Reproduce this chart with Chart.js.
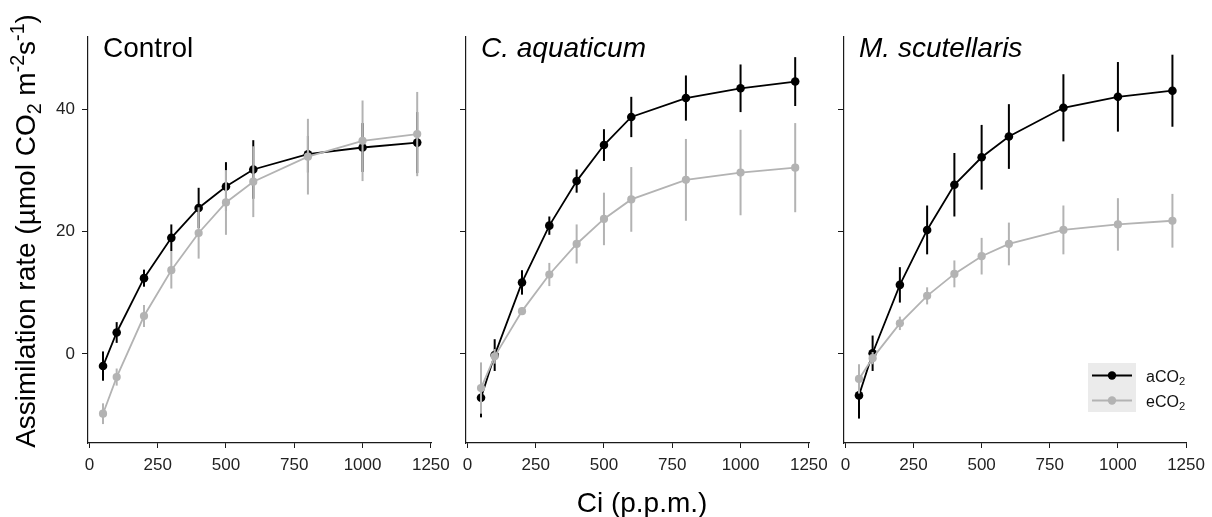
<!DOCTYPE html>
<html>
<head>
<meta charset="utf-8">
<script src="https://cdn.jsdelivr.net/npm/chart.js@4"></script>
<style>
  html, body { margin: 0; padding: 0; background: #fff; }
  #wrap { position: relative; width: 1212px; height: 517px; }
  #wrap canvas { position: absolute; left: 0; top: 0; }
</style>
</head>
<body>
<div id="wrap">
  <canvas id="p1" width="1212" height="517"></canvas>
  <canvas id="p2" width="1212" height="517"></canvas>
  <canvas id="p3" width="1212" height="517"></canvas>
</div>
<script>
// Ci levels (p.p.m.)
const ci = [50, 100, 200, 300, 400, 500, 600, 800, 1000, 1200];

// Control
const controlA    = [-2.0, 3.5, 12.4, 19.0, 23.9, 27.4, 30.2, 32.7, 33.8, 34.6];
const controlAErr = [2.4, 1.7, 1.4, 2.2, 3.3, 4.0, 4.8, 3.0, 4.0, 5.0];
const controlE    = [-9.8, -3.8, 6.2, 13.7, 19.8, 24.8, 28.2, 32.3, 34.9, 36.0];
const controlEErr = [1.7, 1.4, 1.8, 3.0, 4.2, 5.3, 5.8, 6.2, 6.6, 6.9];

// C. aquaticum
const aquaA    = [-7.2, -0.2, 11.7, 21.0, 28.3, 34.2, 38.8, 41.9, 43.5, 44.6];
const aquaAErr = [3.2, 2.6, 2.0, 1.5, 1.9, 2.6, 3.3, 3.7, 3.9, 4.0];
const aquaE    = [-5.6, -0.4, 7.0, 13.0, 18.0, 22.1, 25.3, 28.5, 29.7, 30.5];
const aquaEErr = [4.2, 1.2, 0.6, 1.9, 3.2, 4.3, 5.3, 6.7, 7.0, 7.3];

// M. scutellaris
const scutA    = [-6.8, 0.1, 11.3, 20.3, 27.7, 32.2, 35.6, 40.3, 42.1, 43.1];
const scutAErr = [3.8, 2.9, 2.9, 4.0, 5.2, 5.3, 5.3, 5.5, 5.7, 5.9];
const scutE    = [-4.1, -0.7, 5.0, 9.5, 13.1, 16.0, 18.0, 20.3, 21.2, 21.8];
const scutEErr = [2.4, 1.0, 1.1, 1.4, 2.2, 3.0, 3.5, 4.0, 4.3, 4.4];

const xTicks = [0, 250, 500, 750, 1000, 1250];
const yTicks = [0, 20, 40];
const panelTitles = ['Control', 'C. aquaticum', 'M. scutellaris'];
const seriesNames = ['aCO', 'eCO'];   // followed by subscript 2
const xTitle = 'Ci (p.p.m.)';

const FONT = '"Liberation Sans", Arial, Helvetica, sans-serif';
const BLACK = '#000000';
const GREY = '#b3b3b3';
const AXIS = '#1a1a1a';

Chart.defaults.font.family = FONT;

const axisLeft = [88, 466, 844];
const plotW = 343.4;

function drawRich(ctx, parts, x, y, size, center) {
  const fontFor = k => (k ? size * 0.7 : size) + 'px ' + FONT;
  let total = 0;
  parts.forEach(([t, k]) => { ctx.font = fontFor(k); total += ctx.measureText(t).width; });
  let cx = center ? x - total / 2 : x;
  ctx.textAlign = 'left';
  ctx.textBaseline = 'alphabetic';
  parts.forEach(([t, k]) => {
    ctx.font = fontFor(k);
    const dy = k === 1 ? size * 0.22 : k === 2 ? -size * 0.38 : 0;
    ctx.fillText(t, cx, y + dy);
    cx += ctx.measureText(t).width;
  });
}

// vertical error bars, drawn just before each dataset
const errorBars = {
  id: 'errorBars',
  beforeDatasetDraw(chart, args) {
    const ds = chart.data.datasets[args.index];
    const xs = chart.scales.x, ys = chart.scales.y;
    const ctx = chart.ctx;
    ctx.save();
    ctx.strokeStyle = ds.borderColor;
    ctx.lineWidth = 2;
    ds.data.forEach((p, i) => {
      const px = xs.getPixelForValue(p.x);
      ctx.beginPath();
      ctx.moveTo(px, ys.getPixelForValue(p.y - ds.err[i]));
      ctx.lineTo(px, ys.getPixelForValue(p.y + ds.err[i]));
      ctx.stroke();
    });
    ctx.restore();
  }
};

const decorations = {
  id: 'decorations',
  afterDraw(chart) {
    const k = chart.options.panel;
    const ctx = chart.ctx;
    ctx.save();
    ctx.fillStyle = '#000';
    ctx.textAlign = 'left';
    ctx.textBaseline = 'alphabetic';
    ctx.font = (k > 0 ? 'italic ' : '') + '28px ' + FONT;
    ctx.fillText(panelTitles[k], chart.chartArea.left + 15, 57);

    if (k === 0) {
      ctx.save();
      ctx.translate(35, 231);
      ctx.rotate(-Math.PI / 2);
      drawRich(ctx, [['Assimilation rate (\u00b5mol CO', 0], ['2', 1], [' m', 0], ['-2', 2], ['s', 0], ['-1', 2], [')', 0]], 0, 0, 28, true);
      ctx.restore();
    }
    if (k === 1) {
      ctx.font = '28px ' + FONT;
      ctx.textAlign = 'center';
      ctx.fillText(xTitle, 642, 512);
    }
    if (k === 2) {
      ctx.fillStyle = '#ebebeb';
      ctx.fillRect(1088, 363, 48, 49);
      chart.data.datasets.forEach((ds, i) => {
        const cy = 375.5 + 25 * i;
        ctx.strokeStyle = ds.borderColor;
        ctx.lineWidth = 1.8;
        ctx.beginPath();
        ctx.moveTo(1092, cy);
        ctx.lineTo(1132, cy);
        ctx.stroke();
        ctx.fillStyle = ds.borderColor;
        ctx.beginPath();
        ctx.arc(1112, cy, 4.2, 0, Math.PI * 2);
        ctx.fill();
        ctx.fillStyle = '#111';
        drawRich(ctx, [[seriesNames[i], 0], ['2', 1]], 1146, cy + 6, 16, false);
      });
    }
    ctx.restore();
  }
};

function makePanel(id, k, aVals, aErr, eVals, eErr) {
  const first = k === 0;
  const yw = first ? 88 : 10;
  const series = (vals, err, color, order, r) => ({
    label: '',
    data: ci.map((x, i) => ({ x: x, y: vals[i] })),
    err: err,
    borderColor: color,
    backgroundColor: color,
    pointBackgroundColor: color,
    borderWidth: 1.8,
    pointRadius: r,
    pointBorderWidth: 0,
    tension: 0,
    order: order
  });
  new Chart(document.getElementById(id), {
    type: 'line',
    data: {
      datasets: [
        series(aVals, aErr, BLACK, 1, 4.3),
        series(eVals, eErr, GREY, 0, 4.1)
      ]
    },
    options: {
      panel: k,
      responsive: false,
      animation: false,
      devicePixelRatio: 1,
      events: [],
      layout: {
        padding: { left: axisLeft[k] - yw, right: 1212 - axisLeft[k] - plotW, top: 37, bottom: 517 - 443 - 40 }
      },
      plugins: { legend: { display: false }, tooltip: { enabled: false } },
      scales: {
        x: {
          type: 'linear', min: -5, max: 1252,
          afterBuildTicks: s => { s.ticks = xTicks.map(v => ({ value: v })); },
          afterFit: s => { s.height = 40; },
          grid: { drawOnChartArea: false, drawTicks: true, tickLength: 5, color: AXIS, lineWidth: 1 },
          border: { color: AXIS, width: 1.2 },
          ticks: { color: '#222', font: { size: 17 }, padding: 7, maxRotation: 0, autoSkip: false, callback: v => String(v) }
        },
        y: {
          type: 'linear', min: -14.6, max: 51.9,
          afterBuildTicks: s => { s.ticks = yTicks.map(v => ({ value: v })); },
          afterFit: s => { s.width = yw; },
          grid: { drawOnChartArea: false, drawTicks: true, tickLength: 6, color: AXIS, lineWidth: 1 },
          border: { color: AXIS, width: 1.2 },
          ticks: { display: first, color: '#222', font: { size: 17 }, padding: 7, callback: v => String(v) }
        }
      }
    },
    plugins: [errorBars, decorations]
  });
}

makePanel('p1', 0, controlA, controlAErr, controlE, controlEErr);
makePanel('p2', 1, aquaA, aquaAErr, aquaE, aquaEErr);
makePanel('p3', 2, scutA, scutAErr, scutE, scutEErr);
</script>
</body>
</html>
